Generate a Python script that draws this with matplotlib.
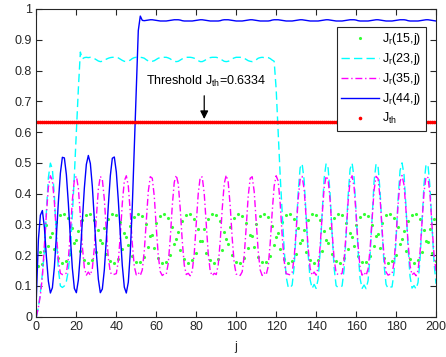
import matplotlib
matplotlib.use("Agg")
import matplotlib.pyplot as plt

plt.rcParams['font.family'] = ['Liberation Sans', 'DejaVu Sans']
plt.rcParams['mathtext.fontset'] = 'custom'
plt.rcParams['mathtext.rm'] = 'Liberation Sans'
plt.rcParams['mathtext.it'] = 'Liberation Sans'

j_vals = list(range(201))

jr35 = [0.0, 0.03, 0.07, 0.13, 0.231, 0.333, 0.421, 0.458, 0.443, 0.373,
        0.27, 0.184, 0.141, 0.137, 0.137, 0.142, 0.188, 0.275, 0.378, 0.445,
        0.457, 0.418, 0.328, 0.228, 0.159, 0.135, 0.145, 0.135, 0.157, 0.223,
        0.322, 0.414, 0.456, 0.446, 0.382, 0.28, 0.191, 0.144, 0.136, 0.138,
        0.140, 0.181, 0.265, 0.369, 0.441, 0.458, 0.425, 0.339, 0.237, 0.163,
        0.136, 0.143, 0.134, 0.152, 0.214, 0.311, 0.407, 0.455, 0.450, 0.391,
        0.29, 0.198, 0.146, 0.134, 0.139, 0.138, 0.174, 0.255, 0.36, 0.437,
        0.46, 0.432, 0.35, 0.246, 0.168, 0.137, 0.141, 0.133, 0.148, 0.205,
        0.30, 0.40, 0.454, 0.454, 0.40, 0.30, 0.205, 0.148, 0.133, 0.141,
        0.137, 0.168, 0.246, 0.35, 0.432, 0.46, 0.437, 0.36, 0.255, 0.174,
        0.138, 0.139, 0.134, 0.146, 0.198, 0.29, 0.391, 0.450, 0.455, 0.407,
        0.311, 0.214, 0.152, 0.134, 0.143, 0.136, 0.163, 0.237, 0.339, 0.425,
        0.458, 0.441, 0.369, 0.265, 0.181, 0.140, 0.138, 0.136, 0.144, 0.191,
        0.28, 0.382, 0.446, 0.456, 0.414, 0.322, 0.223, 0.157, 0.135, 0.145,
        0.135, 0.159, 0.228, 0.328, 0.418, 0.457, 0.445, 0.378, 0.275, 0.188,
        0.142, 0.137, 0.137, 0.141, 0.184, 0.27, 0.373, 0.443, 0.458, 0.421,
        0.333, 0.231, 0.16, 0.135, 0.144, 0.134, 0.155, 0.219, 0.317, 0.411,
        0.456, 0.449, 0.386, 0.285, 0.195, 0.145, 0.135, 0.138, 0.139, 0.177,
        0.26, 0.364, 0.439, 0.459, 0.428, 0.344, 0.241, 0.166, 0.136, 0.142,
        0.133, 0.150, 0.209, 0.305, 0.404, 0.455, 0.452, 0.396, 0.295, 0.202,
        0.147]

jr23 = [0.0, 0.03, 0.08, 0.14, 0.213, 0.342, 0.452, 0.499, 0.480, 0.392,
        0.262, 0.154, 0.100, 0.095, 0.10, 0.115, 0.15, 0.22, 0.33, 0.46,
        0.60, 0.74, 0.86, 0.838, 0.842, 0.843, 0.842, 0.843, 0.842, 0.839,
        0.835, 0.831, 0.829, 0.830, 0.832, 0.837, 0.840, 0.842, 0.843, 0.843,
        0.843, 0.841, 0.837, 0.833, 0.830, 0.829, 0.831, 0.834, 0.839, 0.842,
        0.843, 0.842, 0.843, 0.842, 0.840, 0.835, 0.831, 0.829, 0.830, 0.832,
        0.836, 0.840, 0.842, 0.843, 0.843, 0.843, 0.841, 0.838, 0.833, 0.830,
        0.829, 0.830, 0.834, 0.838, 0.841, 0.843, 0.843, 0.843, 0.842, 0.840,
        0.836, 0.832, 0.829, 0.829, 0.832, 0.836, 0.840, 0.842, 0.843, 0.843,
        0.843, 0.841, 0.838, 0.834, 0.830, 0.829, 0.830, 0.833, 0.838, 0.841,
        0.843, 0.843, 0.843, 0.842, 0.840, 0.836, 0.832, 0.830, 0.829, 0.831,
        0.835, 0.840, 0.842, 0.843, 0.842, 0.843, 0.842, 0.839, 0.834, 0.83,
        0.74, 0.60, 0.46, 0.34, 0.22, 0.13, 0.097, 0.093, 0.103, 0.163,
        0.275, 0.403, 0.484, 0.497, 0.444, 0.328, 0.203, 0.120, 0.092, 0.105,
        0.092, 0.122, 0.209, 0.335, 0.449, 0.498, 0.483, 0.398, 0.269, 0.159,
        0.101, 0.095, 0.095, 0.100, 0.154, 0.262, 0.392, 0.480, 0.499, 0.452,
        0.342, 0.213, 0.124, 0.092, 0.103, 0.091, 0.117, 0.198, 0.321, 0.440,
        0.497, 0.488, 0.408, 0.281, 0.168, 0.105, 0.092, 0.096, 0.097, 0.145,
        0.250, 0.381, 0.475, 0.500, 0.461, 0.355, 0.226, 0.131, 0.093, 0.101,
        0.090, 0.111, 0.185, 0.306, 0.431, 0.495, 0.492, 0.421, 0.294, 0.177,
        0.107]

jr44 = [0.065, 0.25, 0.33, 0.345, 0.29, 0.195, 0.115, 0.077, 0.094, 0.161,
        0.262, 0.373, 0.466, 0.518, 0.516, 0.462, 0.368, 0.257, 0.157, 0.092,
        0.078, 0.119, 0.204, 0.313, 0.418, 0.495, 0.524, 0.498, 0.423, 0.318,
        0.209, 0.122, 0.078, 0.090, 0.152, 0.251, 0.362, 0.458, 0.515, 0.519,
        0.470, 0.378, 0.268, 0.166, 0.096, 0.077, 0.112, 0.21, 0.36, 0.55,
        0.75, 0.93, 0.977, 0.963, 0.962, 0.963, 0.964, 0.965, 0.965, 0.964,
        0.963, 0.962, 0.961, 0.961, 0.961, 0.961, 0.962, 0.963, 0.964, 0.965,
        0.965, 0.965, 0.964, 0.962, 0.961, 0.961, 0.961, 0.961, 0.961, 0.962,
        0.963, 0.964, 0.965, 0.965, 0.964, 0.963, 0.962, 0.961, 0.961, 0.961,
        0.961, 0.961, 0.962, 0.964, 0.965, 0.965, 0.965, 0.964, 0.963, 0.962,
        0.961, 0.961, 0.961, 0.961, 0.962, 0.963, 0.964, 0.965, 0.965, 0.964,
        0.963, 0.962, 0.961, 0.961, 0.961, 0.961, 0.961, 0.962, 0.964, 0.965,
        0.965, 0.965, 0.964, 0.963, 0.962, 0.961, 0.961, 0.961, 0.961, 0.962,
        0.963, 0.964, 0.965, 0.965, 0.964, 0.963, 0.962, 0.961, 0.961, 0.961,
        0.961, 0.961, 0.962, 0.963, 0.964, 0.965, 0.965, 0.964, 0.963, 0.962,
        0.961, 0.961, 0.961, 0.961, 0.962, 0.963, 0.964, 0.965, 0.965, 0.965,
        0.964, 0.962, 0.961, 0.961, 0.961, 0.961, 0.961, 0.962, 0.963, 0.964,
        0.965, 0.965, 0.964, 0.963, 0.962, 0.961, 0.961, 0.961, 0.961, 0.962,
        0.963, 0.964, 0.965, 0.965, 0.965, 0.964, 0.962, 0.961, 0.961, 0.961,
        0.961, 0.961, 0.962, 0.963, 0.964, 0.965, 0.965, 0.964, 0.963, 0.962,
        0.961]

jr15 = [0.160, 0.165, 0.210, 0.170, 0.215, 0.297, 0.231, 0.259, 0.271, 0.220,
        0.307, 0.190, 0.330, 0.176, 0.334, 0.181, 0.320, 0.204, 0.289, 0.240,
        0.250, 0.280, 0.212, 0.313, 0.185, 0.332, 0.175, 0.333, 0.185, 0.314,
        0.211, 0.281, 0.249, 0.241, 0.288, 0.205, 0.319, 0.181, 0.334, 0.175,
        0.330, 0.189, 0.307, 0.219, 0.272, 0.258, 0.232, 0.296, 0.198, 0.324,
        0.178, 0.335, 0.177, 0.326, 0.195, 0.300, 0.228, 0.263, 0.267, 0.224,
        0.303, 0.192, 0.328, 0.176, 0.335, 0.179, 0.322, 0.201, 0.292, 0.236,
        0.254, 0.276, 0.216, 0.310, 0.187, 0.331, 0.175, 0.333, 0.183, 0.316,
        0.208, 0.284, 0.245, 0.245, 0.284, 0.208, 0.317, 0.183, 0.333, 0.175,
        0.331, 0.187, 0.310, 0.216, 0.276, 0.254, 0.236, 0.293, 0.201, 0.322,
        0.179, 0.335, 0.176, 0.328, 0.192, 0.303, 0.224, 0.267, 0.263, 0.227,
        0.300, 0.195, 0.326, 0.177, 0.335, 0.178, 0.324, 0.198, 0.296, 0.232,
        0.258, 0.272, 0.219, 0.307, 0.189, 0.330, 0.175, 0.334, 0.181, 0.319,
        0.205, 0.288, 0.241, 0.249, 0.281, 0.211, 0.314, 0.185, 0.333, 0.175,
        0.332, 0.185, 0.313, 0.212, 0.279, 0.250, 0.240, 0.289, 0.204, 0.320,
        0.181, 0.334, 0.176, 0.330, 0.190, 0.306, 0.220, 0.271, 0.259, 0.231,
        0.297, 0.197, 0.325, 0.178, 0.335, 0.177, 0.326, 0.196, 0.299, 0.229,
        0.262, 0.268, 0.223, 0.304, 0.192, 0.329, 0.176, 0.335, 0.180, 0.321,
        0.202, 0.291, 0.237, 0.253, 0.277, 0.215, 0.311, 0.186, 0.332, 0.175,
        0.333, 0.183, 0.316, 0.209, 0.283, 0.246, 0.244, 0.285, 0.207, 0.317,
        0.182]

j_th = 0.6334
jth_vals = [j_th] * len(j_vals)

fig = plt.figure(figsize=(4.46, 3.57), dpi=100)
ax = fig.add_axes([0.0816, 0.1129, 0.8960, 0.8619])

ax.plot(j_vals, jr15, linestyle='none', marker='.', markersize=2.5, color='#33ff33',
        label=r'J$_\mathrm{r}$(15,j)')
l23, = ax.plot(j_vals, jr23, color='#00ffff', lw=1.0, label=r'J$_\mathrm{r}$(23,j)')
l23.set_dashes([6, 3])
l35, = ax.plot(j_vals, jr35, color='#ff00ff', lw=1.0, label=r'J$_\mathrm{r}$(35,j)')
l35.set_dashes([5, 2, 1, 2])
ax.plot(j_vals, jr44, color='#0000ff', lw=1.0, label=r'J$_\mathrm{r}$(44,j)')
ax.plot(j_vals, jth_vals, linestyle='none', marker='.', markersize=3.2, color='#ff0000',
        label=r'J$_\mathrm{th}$')

ax.set_xlim(0, 200)
ax.set_ylim(0, 1)
ax.set_xticks(range(0, 201, 20))
ax.set_yticks([i / 10 for i in range(11)])
ax.set_yticklabels(['0', '0.1', '0.2', '0.3', '0.4', '0.5', '0.6', '0.7', '0.8', '0.9', '1'])
ax.tick_params(direction='in', top=True, right=True, length=4, width=0.8,
               labelsize=9, colors='#262626', pad=3)
for s in ax.spines.values():
    s.set_color('#262626')
    s.set_linewidth(0.8)
ax.set_xlabel('j', fontsize=9, color='#262626', labelpad=6)

ax.annotate('', xy=(84, j_th), xytext=(84, 0.727),
            arrowprops=dict(arrowstyle='-|>', color='k', lw=0.9, mutation_scale=12))
ax.text(85, 0.763, r'Threshold J$_\mathrm{th}$=0.6334', ha='center', va='center',
        fontsize=9, color='k')

leg = ax.legend(loc='upper right', bbox_to_anchor=(0.975, 0.9415), fontsize=9,
                fancybox=False, framealpha=1, edgecolor='#262626', handlelength=3.0,
                labelspacing=0.32, borderpad=0.35, handletextpad=0.3,
                borderaxespad=0.0, markerscale=1.0)
leg.get_frame().set_linewidth(0.8)

fig.savefig('out.png', dpi=100)
